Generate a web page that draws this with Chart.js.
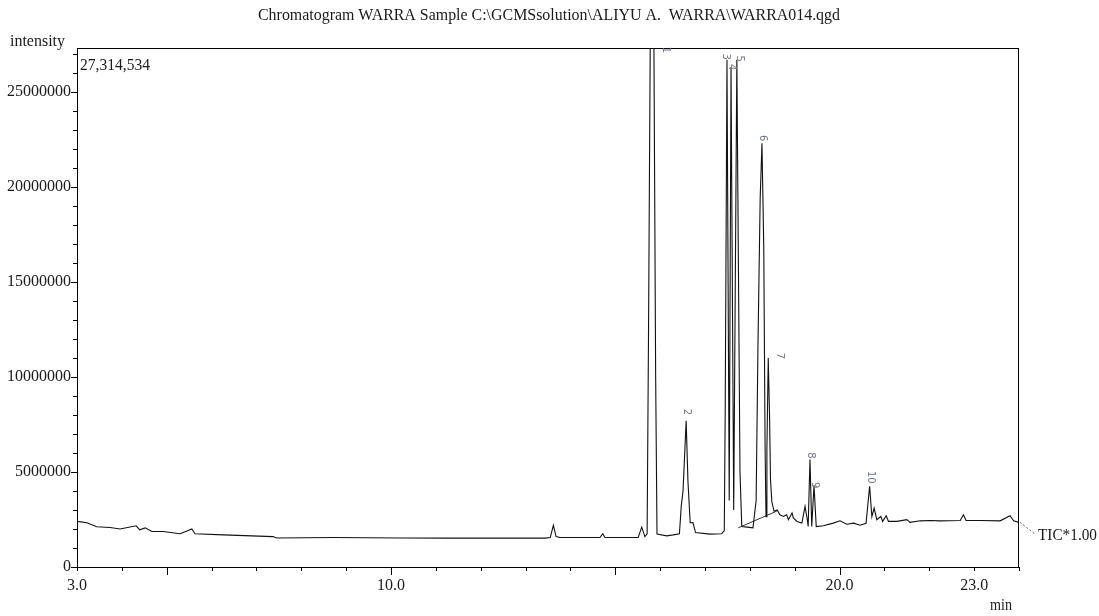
<!DOCTYPE html>
<html>
<head>
<meta charset="utf-8">
<title>Chromatogram WARRA014</title>
<script src="https://cdn.jsdelivr.net/npm/chart.js@4.4.1/dist/chart.umd.min.js"></script>
<style>
    html, body { margin: 0; padding: 0; background: #ffffff; }
    canvas { display: block; }
</style>
</head>
<body>
<canvas id="chromatogramChart" width="1099" height="616"></canvas>
<script>
// Retention time (min) and TIC intensity
const retentionTimes = [
    3.00, 3.22, 3.44, 3.74, 3.96, 4.32, 4.40, 4.52, 4.67, 4.92,
    5.30, 5.56, 5.63, 6.26, 7.37, 7.45, 8.71, 10.20, 11.32, 12.43,
    13.43, 13.55, 13.62, 13.68, 13.77, 14.66, 14.72, 14.77, 15.51, 15.59,
    15.66, 15.71, 15.74, 15.78, 15.86, 15.90, 15.93, 16.15, 16.29, 16.43,
    16.47, 16.51, 16.58, 16.62, 16.67, 16.73, 16.79, 17.11, 17.37, 17.43,
    17.45, 17.49, 17.54, 17.58, 17.64, 17.71, 17.78, 17.82, 17.94, 18.07,
    18.14, 18.18, 18.23, 18.27, 18.31, 18.34, 18.36, 18.38, 18.41, 18.44,
    18.46, 18.49, 18.54, 18.61, 18.67, 18.75, 18.82, 18.86, 18.94, 18.97,
    19.05, 19.16, 19.23, 19.28, 19.30, 19.34, 19.38, 19.43, 19.48, 19.64,
    19.86, 20.01, 20.16, 20.31, 20.46, 20.59, 20.67, 20.72, 20.77, 20.83,
    20.92, 20.96, 21.04, 21.09, 21.28, 21.50, 21.57, 21.80, 22.02, 22.24,
    22.69, 22.76, 22.82, 23.13, 23.58, 23.80, 23.88, 24.00
];
const ticIntensity = [
    2400000, 2330000, 2120000, 2080000, 2000000, 2170000, 1960000, 2060000, 1870000, 1870000,
    1750000, 2000000, 1750000, 1690000, 1600000, 1530000, 1550000, 1530000, 1520000, 1520000,
    1520000, 1550000, 2190000, 1600000, 1550000, 1550000, 1750000, 1550000, 1550000, 2100000,
    1600000, 1750000, 12000000, 28000000, 28000000, 10000000, 1730000, 1640000, 1690000, 1750000,
    3190000, 4000000, 7690000, 4500000, 2330000, 2340000, 1810000, 1730000, 1750000, 1900000,
    8000000, 26700000, 3500000, 26300000, 3000000, 26700000, 5000000, 2130000, 2100000, 2060000,
    3500000, 11500000, 19400000, 22300000, 16800000, 6200000, 2650000, 6200000, 11000000, 7800000,
    4600000, 3440000, 2930000, 3000000, 2750000, 2660000, 2750000, 2490000, 2840000, 2580000,
    2400000, 2310000, 3190000, 2500000, 2130000, 5660000, 2130000, 4300000, 2130000, 2170000,
    2310000, 2430000, 2250000, 2310000, 2200000, 2300000, 4250000, 2650000, 3100000, 2490000,
    2660000, 2400000, 2700000, 2400000, 2400000, 2490000, 2350000, 2430000, 2450000, 2430000,
    2450000, 2750000, 2450000, 2450000, 2430000, 2700000, 2430000, 2350000
];

// integration baseline drawn under peaks 6 and 7
const baselineTimes = [17.74, 18.60];
const baselineIntensity = [2060000, 2940000];

const peakNumbers = ["1", "2", "3", "4", "5", "6", "7", "8", "9", "10"];
const peakTimes = [15.82, 16.58, 17.49, 17.58, 17.71, 18.27, 18.41, 19.34, 19.43, 20.67];
const peakHeights = [27314534, 7690000, 26700000, 26300000, 26700000, 22300000, 11000000, 5660000, 4300000, 4250000];

const xTickValues = [3, 4, 5, 6, 7, 8, 9, 10, 11, 12, 13, 14, 15, 16, 17, 18, 19, 20, 21, 22, 23, 24];
const xTickLabels = [3, 10, 20, 23];
const yTickValues = [0, 1e6, 2e6, 3e6, 4e6, 5e6, 6e6, 7e6, 8e6, 9e6, 10e6, 11e6, 12e6, 13e6,
    14e6, 15e6, 16e6, 17e6, 18e6, 19e6, 20e6, 21e6, 22e6, 23e6, 24e6, 25e6, 26e6, 27e6];
const yMax = 27314534;

const serif = '"Liberation Serif", "DejaVu Serif", serif';
const textColour = "#1a1a1a";

function fitText(ctx, text, x, y, width) {
    const measured = ctx.measureText(text).width;
    ctx.save();
    ctx.translate(x, y);
    ctx.scale(width / measured, 1);
    ctx.fillText(text, 0, 0);
    ctx.restore();
}

const labelOffsets = {
    "1": [14, 2], "2": [0, -9], "3": [-1, -3], "4": [1, 0], "5": [3, -1],
    "6": [1, -5], "7": [11, -2], "8": [1, -4], "9": [1, 0], "10": [1, -9]
};

const chromatogramDecor = {
    id: "chromatogramDecor",
    afterDraw(chart) {
        const { ctx, chartArea: area, scales: { x, y } } = chart;
        ctx.save();

        // plot frame
        ctx.strokeStyle = "#000";
        ctx.lineWidth = 1;
        ctx.strokeRect(area.left + 0.5, area.top + 0.5, area.right - area.left - 1, area.bottom - area.top);

        // tick marks, major ones longer
        ctx.beginPath();
        x.ticks.forEach((tick) => {
            const px = Math.round(x.getPixelForValue(tick.value)) + 0.5;
            const len = tick.value % 5 === 0 ? 8 : 4;
            ctx.moveTo(px, area.bottom);
            ctx.lineTo(px, area.bottom + len);
        });
        y.ticks.forEach((tick) => {
            const py = Math.round(y.getPixelForValue(tick.value)) + 0.5;
            const len = tick.value % 5e6 === 0 ? 6 : 4;
            ctx.moveTo(area.left - len, py);
            ctx.lineTo(area.left, py);
        });
        ctx.stroke();

        // texts
        ctx.fillStyle = textColour;
        ctx.textBaseline = "middle";
        ctx.textAlign = "left";
        ctx.font = "16px " + serif;
        const title = "Chromatogram WARRA Sample C:\\GCMSsolution\\ALIYU A.  WARRA\\WARRA014.qgd";
        fitText(ctx, title, 258, 16, 582);
        fitText(ctx, "intensity", 10, 42, 55);
        fitText(ctx, "27,314,534", 80, 66, 70);
        fitText(ctx, "min", 990, 606, 22);
        fitText(ctx, "TIC*1.00", 1038, 536, 59);

        // leader to the trace label
        ctx.strokeStyle = "#666";
        ctx.setLineDash([2, 2]);
        ctx.beginPath();
        ctx.moveTo(area.right + 1, y.getPixelForValue(ticIntensity[ticIntensity.length - 1]));
        ctx.lineTo(1035, 534);
        ctx.stroke();
        ctx.setLineDash([]);

        // peak numbers, rotated
        ctx.font = '10px "DejaVu Sans", sans-serif';
        ctx.fillStyle = "#6f7684";
        ctx.textAlign = "center";
        peakNumbers.forEach((num, i) => {
            const px = x.getPixelForValue(peakTimes[i]);
            const py = y.getPixelForValue(Math.min(peakHeights[i], yMax));
            const [dx, dy] = labelOffsets[num];
            ctx.save();
            ctx.translate(px + dx, py + dy);
            ctx.rotate(Math.PI / 2);
            ctx.fillText(num, 0, 0);
            ctx.restore();
        });

        ctx.restore();
    }
};

new Chart(document.getElementById("chromatogramChart"), {
    type: "line",
    data: {
        datasets: [
            {
                label: "TIC*1.00",
                data: retentionTimes.map((t, i) => ({ x: t, y: ticIntensity[i] })),
                borderColor: "#111",
                borderWidth: 1.1,
                pointRadius: 0,
                tension: 0,
                fill: false
            },
            {
                label: "baseline",
                data: baselineTimes.map((t, i) => ({ x: t, y: baselineIntensity[i] })),
                borderColor: "#333",
                borderWidth: 1,
                pointRadius: 0,
                fill: false
            }
        ]
    },
    options: {
        responsive: false,
        animation: false,
        layout: { padding: { top: 48, right: 80, left: 0, bottom: 0 } },
        plugins: {
            legend: { display: false },
            tooltip: { enabled: false }
        },
        scales: {
            x: {
                type: "linear",
                min: 3,
                max: 24,
                afterBuildTicks: (scale) => { scale.ticks = xTickValues.map((v) => ({ value: v })); },
                afterFit: (scale) => { scale.height = 49; },
                grid: { display: false, drawTicks: false },
                border: { display: false },
                ticks: {
                    autoSkip: false,
                    maxRotation: 0,
                    padding: 9,
                    color: textColour,
                    font: { family: serif, size: 16 },
                    callback: (v) => (xTickLabels.includes(v) ? v.toFixed(1) : "")
                }
            },
            y: {
                type: "linear",
                min: 0,
                max: yMax,
                afterBuildTicks: (scale) => { scale.ticks = yTickValues.map((v) => ({ value: v })); },
                afterFit: (scale) => { scale.width = 77; },
                grid: { display: false, drawTicks: false },
                border: { display: false },
                ticks: {
                    autoSkip: false,
                    padding: 6,
                    color: textColour,
                    font: { family: serif, size: 16 },
                    callback: (v) => (v % 5e6 === 0 ? String(v) : "")
                }
            }
        }
    },
    plugins: [chromatogramDecor]
});
</script>
</body>
</html>
